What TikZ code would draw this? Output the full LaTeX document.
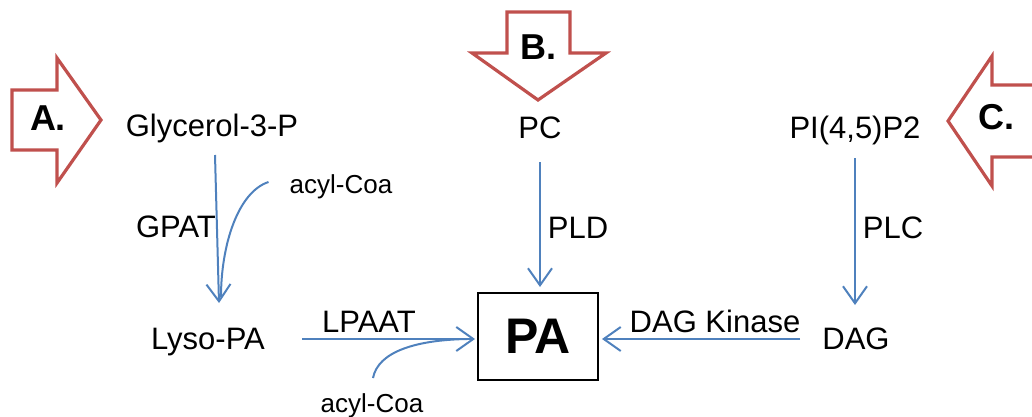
\documentclass[tikz,border=0pt]{standalone}
\usepackage{fontspec}
\setmainfont{Liberation Sans}
\usetikzlibrary{arrows.meta,calc}
\definecolor{flowblue}{HTML}{4F81BD}
\definecolor{bigred}{HTML}{C0504D}
\tikzset{
  lbl/.style={inner sep=0pt,anchor=base,font=\fontsize{31}{31}\selectfont},
  small/.style={inner sep=0pt,anchor=base,font=\fontsize{26}{26}\selectfont},
  biglbl/.style={inner sep=0pt,font=\fontsize{36}{36}\selectfont\bfseries},
  flow/.style={draw=flowblue,line width=2pt,-{Straight Barb[length=17pt,width=24pt,line width=2pt]}},
  feed/.style={draw=flowblue,line width=2pt},
  bigarrow/.style={draw=bigred,line width=3.2pt,fill=white,line join=miter}
}
\begin{document}
\begin{tikzpicture}[x=1pt,y=-1pt]
\useasboundingbox (0,0) rectangle (1032,417);
\begin{scope}
\clip (0,0) rectangle (1032,417);
% big arrows
\draw[bigarrow] (12,90) -- (57,90) -- (57,58) -- (101,120) -- (57,183) -- (57,150) -- (12,150) -- cycle;
\draw[bigarrow] (507,12) -- (570,12) -- (570,53) -- (606,53) -- (538,100) -- (472,53) -- (507,53) -- cycle;
\draw[bigarrow] (1045,85) -- (992,85) -- (992,56) -- (948,121) -- (992,186) -- (992,157) -- (1045,157) -- cycle;
\end{scope}
\node[biglbl] (la) at (48,118) {A.};
\node[biglbl] (lb) at (538,47) {B.};
\node[biglbl] (lc) at (996,117) {C.};
% species
\node[lbl] (glyc) at (212,136) {Glycerol-3-P};
\node[lbl] (pc) at (540,139) {PC};
\node[lbl] (pip) at (855,138) {PI(4,5)P2};
\node[lbl] (lyso) at (208,349) {Lyso-PA};
\node[lbl] (dag) at (856,349) {DAG};
\node[draw,line width=2pt,minimum width=120pt,minimum height=87pt,inner sep=0pt,
      font=\fontsize{50}{50}\selectfont\bfseries] (pa) at (538,336.5) {PA};
% enzymes
\node[lbl] (gpat) at (176,237) {GPAT};
\node[lbl] (pld) at (578,238) {PLD};
\node[lbl] (plc) at (893,238) {PLC};
\node[lbl] (lpaat) at (369,332) {LPAAT};
\node[lbl] (dagk) at (715,332) {DAG Kinase};
\node[small] (acyl1) at (341,193) {acyl-Coa};
\node[small] (acyl2) at (372,412) {acyl-Coa};
% connectors
\draw[flow] ($(glyc.base)+(3,19)$) -- ($(lyso.base)+(11,-46)$);
\draw[feed] ($(acyl1.base west)+(-21,-11)$) .. controls (238,192) and (221,245) .. ($(lyso.base)+(13,-52)$);
\draw[flow] ($(pc.base)+(0,23)$) -- ($(pa.north)+(2,-5)$);
\draw[flow] ($(pip.base)+(0,20)$) -- ($(dag.base)+(-1,-44)$);
\draw[flow] ($(lyso.base)+(94,-10)$) -- ($(pa.west)+(-2,2.5)$);
\draw[feed] ($(acyl2.base)+(1,-34)$) .. controls (378,352) and (415,340) .. ($(pa.west)+(-10,2.5)$);
\draw[flow] ($(dag.base)+(-56,-10)$) -- ($(pa.east)+(3,2.5)$);
\end{tikzpicture}
\end{document}
